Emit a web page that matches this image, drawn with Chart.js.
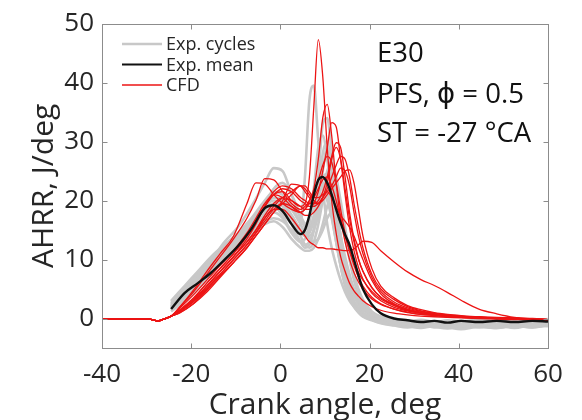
<!DOCTYPE html>
<html>
<head>
<meta charset="utf-8">
<title>AHRR vs crank angle</title>
<script src="https://cdn.jsdelivr.net/npm/chart.js@4.4.0/dist/chart.umd.min.js"></script>
<style>
  html, body { margin: 0; padding: 0; background: #ffffff; }
  #wrap { width: 582px; height: 420px; }
</style>
</head>
<body>
<div id="wrap"><canvas id="c" width="582" height="420"></canvas></div>
<script>
// Crank angle sample points (deg)
const X_EXP = [-24.5,-21.5,-18.5,-15.5,-12.5,-9.5,-6.5,-3.5,-1.5,0.5,2.5,4.5,
  5.5,6.5,7.5,8.5,9.5,10.5,11.5,12.5,13.5,14.5,15.5,16.5,17.5,18.5,
  20.5,22.5,25.5,28.5,31.5,34.5,37.5,40.5,44.5,48.5,52.5,56.5,60];
const X_CFD = [-40,-29.5,-27.5,-26.5,-24.5,-22.5,-19.5,-16.5,-13.5,-10.5,-7.5,-5.5,-3.5,-1.5,0.5,2.5,4.5,
  5.5,6.5,7.5,8.5,9.5,10.5,11.5,12.5,13.5,14.5,15.5,16.5,17.5,18.5,
  20.5,22.5,25.5,28.5,31.5,34.5,37.5,40.5,44.5,48.5,52.5,56.5,60];

const X_TICKS = [-40, -20, 0, 20, 40, 60];
const Y_TICKS = [0, 10, 20, 30, 40, 50];

// Individual measured cycles, AHRR in J/deg
const EXP_01 = [2,4,6.5,9,11.5,13.5,16,18.5,19,17.5,15,16, 24,37,39.5,30,22,16,12,9,6.5,4.5,3,2,1.2,0.6, 0,-0.5,-0.8,-1,-0.7,-1.2,-0.8,-1,-0.6,-1,-0.7,-0.9,-0.6];
const EXP_02 = [2.5,5,7.5,10,13,15.5,19,23,25.5,25,21,17, 15.5,15,16.5,19,21,20,17,13,9,6,4,2.5,1.5,0.8, 0.2,-0.3,-0.6,-0.9,-1.2,-0.8,-1.1,-0.7,-1.2,-0.8,-1,-0.6,-0.8];
const EXP_03 = [1.5,3.5,6,8,10.5,12.5,15,17.5,18,17,14.5,13, 13.5,16,22,29,31,27,20,14,9,5.5,3.5,2,1,0.3, -0.3,-0.8,-1.2,-1.5,-1.1,-1.4,-1.7,-1.2,-1.5,-1.2,-1.6,-1.1,-1.3];
const EXP_04 = [3,5.5,8,10.5,12.5,14.5,17,20,21.5,21,19,16.5, 16,17,19,22,26,27,24,19,14,10,7,4.8,3,1.8, 0.6,0.1,-0.3,-0.5,-0.2,-0.6,-0.3,-0.5,-0.2,-0.4,0,-0.3,-0.1];
const EXP_05 = [2,4.5,7,9.5,12,14,16.5,19,20,19.5,17,14, 12.5,12,13,16,20,23,22,18,13.5,9,6,4,2.5,1.5, 0.5,-0.2,-0.7,-1,-1.3,-1,-1.4,-1.1,-1.3,-1.6,-1.2,-1.4,-1];
const EXP_06 = [1.2,3,5,7.5,10,12,14.5,17,18.5,18.5,17.5,15, 14,14.5,17,24,33,34,28,20,13,8,5,3,1.8,1, 0.2,-0.4,-0.8,-0.6,-1,-0.7,-0.9,-0.6,-1,-0.7,-0.9,-0.7,-0.5];
const EXP_07 = [2.8,5,7,9,11,13,15.5,18,19.5,20,18.5,16, 14.5,13.5,13,13.5,15,17,18,17,14,10.5,7.5,5,3.5,2.5, 1,0.3,-0.2,-0.6,-0.9,-1.3,-1,-1.3,-0.9,-1.1,-1.4,-1,-1.1];
const EXP_08 = [1.8,4,6,8.5,10.5,12.5,14.5,16.5,17,16.5,15,13, 12.5,13,15,19,25,29,26,20,14,9.5,6,4,2.5,1.5, 0.6,0,-0.5,-0.8,-0.5,-0.9,-0.6,-0.9,-0.6,-0.9,-0.5,-0.8,-0.5];
const EXP_09 = [2.2,4.5,7.5,10,12,14,16.5,19.5,22,23,21,17.5, 16,15.5,17,20.5,24,24.5,21,16,11,7,4.5,2.8,1.5,0.8, 0,-0.5,-1,-1.3,-1.6,-1.3,-1.5,-1.8,-1.4,-1.6,-1.3,-1.5,-1.2];
const EXP_10 = [1.5,3.5,5.5,8,10.5,13,15.5,18,19,18,16,14.5, 14,14,15,17.5,21,25,26,24,20,15.5,11,7.5,5,3.2, 1.2,0.3,-0.3,-0.5,-0.8,-0.5,-0.8,-0.4,-0.7,-0.4,-0.7,-0.4,-0.6];
const EXP_11 = [2.5,5,7.5,9.5,11.5,13.5,16,18.5,19.5,19,16,13, 12,12.5,15,21,28,30,25,18,12,7.5,4.5,2.5,1.2,0.5, -0.2,-0.7,-1.1,-1.4,-1,-1.5,-1.2,-1.5,-1.1,-1.4,-1.2,-1.5,-1.1];
const EXP_12 = [1.8,4,6.5,9,11.5,13.5,16,19,20.5,20,17.5,15, 14.5,15,17.5,21,23,21.5,17.5,13,9,6,3.8,2.3,1.3,0.6, 0,-0.4,-0.7,-0.5,-0.8,-1.1,-0.8,-1,-1.3,-0.9,-1.1,-0.8,-0.9];
const EXP_13 = [2,4,6,8,10,12,14,16,16.5,15.5,13.5,12, 11.5,11.5,12,13.5,16,19,21,20.5,18,14,10,6.5,4,2.4, 0.7,-0.1,-0.6,-0.9,-0.6,-1,-0.7,-1,-0.7,-1,-0.8,-1,-0.7];

// Ensemble mean of the measured cycles
const EXP_MEAN = [1.6,4.3,6,7.8,10,12.3,15.2,18.7,19.2,18.2,16,14.3, 15,17.5,21,23.5,24,23,21,18.5,16.2,14.2,12.5,10,7.3,5, 2.4,0.9,0,-0.3,-0.6,-0.4,-0.7,-0.4,-0.6,-0.4,-0.6,-0.4,-0.5];

// CFD realisations
const CFD_01 = [-0.1,-0.1,-0.4,-0.2,0.4, 1.5,3.5,6,8.5,11,14,16.5,19,21,21.5,20,19, 19.5,24,36,47.3,41,29,20,14.5,10.5,8,6,4.7,3.8,3, 2,1.4,0.9,0.6,0.4,0.3,0.2,0.1,0,-0.1,-0.2,-0.2,-0.3];
const CFD_02 = [-0.1,-0.1,-0.4,-0.2,0.4, 1.8,4,6.5,9,11.5,14.5,17,19.5,21,20.5,19,18, 18.5,20,22,27,34,36.3,31,23,17,13,10,7.8,6.2,5, 3.3,2.4,1.6,1.1,0.7,0.5,0.3,0.2,0.1,0,-0.1,-0.2,-0.3];
const CFD_03 = [-0.1,-0.1,-0.4,-0.2,0.4, 1.2,3,5.5,8,10.5,13,15,17.5,19.5,20.5,20,19, 18.5,18.5,19.5,21.5,25,29,33.2,32.5,27,21,15.5,11.5,8.7,6.7, 4.3,3,1.9,1.3,0.9,0.6,0.4,0.3,0.2,0.1,0,-0.1,-0.2];
const CFD_04 = [-0.1,-0.1,-0.4,-0.2,0.4, 1.5,3.2,5.5,8,10.5,13.5,16,19,21.5,22.5,22,20.5, 20,19.5,19.5,20,21.5,24,27.5,29.8,29,24,18,13.5,10.2,8, 5.2,3.6,2.4,1.6,1.1,0.8,0.5,0.3,0.2,0.1,0,-0.1,-0.2];
const CFD_05 = [-0.1,-0.1,-0.4,-0.2,0.4, 1.2,2.8,5,7.5,10,12.5,14.5,17,19,20.5,21.5,22.5, 22,21,20,19.5,20,21,22,23,24,25,25.2,23,18.5,14, 8.5,5.5,3.5,2.2,1.5,1,0.7,0.5,0.3,0.2,0.1,0,-0.2];
const CFD_06 = [-0.1,-0.1,-0.4,-0.2,0.4, 2,4.5,7.5,10.5,13.5,17,20,23.7,23.5,21.5,19.5,18.5, 19,20,21.5,23.5,26,27.5,26.5,23,18.5,14.5,11.5,9,7,5.5, 3.6,2.5,1.6,1,0.7,0.5,0.3,0.2,0.1,0,-0.1,-0.2,-0.3];
const CFD_07 = [-0.1,-0.1,-0.4,-0.2,0.4, 1,2.5,4.5,7,9.5,12,14,16,18,20,22.8,22.5, 21.5,20.5,19.5,19.5,20.5,22,24,26,27.5,27,24,19.5,15.5,12, 7.5,5,3.2,2,1.3,0.9,0.6,0.4,0.2,0.1,0,-0.1,-0.2];
const CFD_08 = [-0.1,-0.1,-0.4,-0.2,0.4, 1.2,3,5.5,8,10.5,13,15,17,18.5,18.5,17,15, 14,13,12.5,12,12,11.8,11.8,11.7,11.6,11.5,11.5,11.8,12.5,13.1, 12.9,11.5,9.6,7.9,6.6,5.6,4.4,3.1,1.6,0.8,0.2,-0.1,-0.4];
const CFD_09 = [-0.1,-0.1,-0.4,-0.2,0.4, 2,4.8,8,11,14,19.5,23,22.8,21,19.5,18.5,18, 18.5,19.5,20.5,22,23.5,24,22.5,20,17,14,11.5,9.5,7.8,6.5, 4.6,3.3,2.2,1.4,0.9,0.6,0.4,0.3,0.2,0.1,0,-0.1,-0.2];
const CFD_10 = [-0.1,-0.1,-0.4,-0.2,0.4, 1.4,3.3,6,8.5,11,14,16.5,19,21,22,21.5,20, 19.5,19,19,19.5,20.5,21.5,22.5,24,25.5,25,22.5,18,14,11, 7,4.6,2.8,1.8,1.2,0.8,0.5,0.4,0.2,0.1,0,-0.1,-0.2];
const CFD_11 = [-0.1,-0.1,-0.4,-0.2,0.4, 1,2.5,4.8,7.2,9.5,12,14,16,18,19.5,21,22.5, 22.5,21.5,20.5,20.5,21,21.5,20.5,19,17.5,16.5,15.5,14,12,10, 6.5,4.2,2.5,1.5,1,0.7,0.5,0.3,0.2,0.1,0,-0.1,-0.3];
const CFD_12 = [-0.1,-0.1,-0.4,-0.2,0.4, 1.3,3,5.2,7.5,10,12.5,14.5,16.5,18.5,19.5,19,18, 17.5,17.5,18,19,20.5,23,27,29,27,22,17,13,10,8, 5.3,3.6,2.2,1.4,0.9,0.6,0.4,0.3,0.2,0.1,0,-0.1,-0.2];

const EXP_CYCLES = [EXP_01, EXP_02, EXP_03, EXP_04, EXP_05, EXP_06, EXP_07,
  EXP_08, EXP_09, EXP_10, EXP_11, EXP_12, EXP_13];
const CFD_RUNS = [CFD_01, CFD_02, CFD_03, CFD_04, CFD_05, CFD_06,
  CFD_07, CFD_08, CFD_09, CFD_10, CFD_11, CFD_12];

const FONT = '"Open Sans", "DejaVu Sans", sans-serif';
const INK = '#262626';
const GRAY = 'rgb(200,200,200)';
const BLACK = '#111111';
const RED = 'rgb(236,20,20)';

function pts(xs, ys) { return xs.map((x, i) => ({ x: x, y: ys[i] })); }

// First dataset is painted last, so the mean sits on top, then CFD, then cycles
const datasets = [];
datasets.push({ data: pts(X_EXP, EXP_MEAN), borderColor: BLACK, borderWidth: 2.4 });
CFD_RUNS.forEach(r => datasets.push({ data: pts(X_CFD, r), borderColor: RED, borderWidth: 1.3 }));
EXP_CYCLES.forEach(r => datasets.push({ data: pts(X_EXP, r), borderColor: GRAY, borderWidth: 2.6 }));

// Axis box with inward ticks, legend and run description
const decor = {
  id: 'decor',
  afterDatasetsDraw(chart) {
    const { ctx, chartArea: a, scales } = chart;
    ctx.save();
    ctx.strokeStyle = '#8c8c8c';
    ctx.lineWidth = 1;
    const L = Math.round(a.left) + 0.5, R = Math.round(a.right) + 0.5;
    const T = Math.round(a.top) + 0.5, B = Math.round(a.bottom) + 0.5;
    ctx.strokeRect(L, T, R - L, B - T);
    const tl = 5;
    ctx.beginPath();
    X_TICKS.forEach(v => {
      const px = Math.round(scales.x.getPixelForValue(v)) + 0.5;
      ctx.moveTo(px, B); ctx.lineTo(px, B - tl);
      ctx.moveTo(px, T); ctx.lineTo(px, T + tl);
    });
    Y_TICKS.forEach(v => {
      const py = Math.round(scales.y.getPixelForValue(v)) + 0.5;
      ctx.moveTo(L, py); ctx.lineTo(L + tl, py);
      ctx.moveTo(R, py); ctx.lineTo(R - tl, py);
    });
    ctx.stroke();
    ctx.restore();
  },
  afterDraw(chart) {
    const { ctx } = chart;
    ctx.save();
    // legend
    const items = [['Exp. cycles', GRAY, 2.4], ['Exp. mean', BLACK, 2], ['CFD', RED, 1.5]];
    ctx.font = '18px ' + FONT;
    ctx.textBaseline = 'middle';
    ctx.fillStyle = INK;
    items.forEach((it, i) => {
      const y = 44 + i * 20.5;
      ctx.strokeStyle = it[1];
      ctx.lineWidth = it[2];
      ctx.beginPath(); ctx.moveTo(122, y); ctx.lineTo(162, y); ctx.stroke();
      ctx.fillText(it[0], 166, y + 1);
    });
    // run description
    ctx.font = '27.5px ' + FONT;
    ctx.textBaseline = 'alphabetic';
    ctx.fillStyle = '#111111';
    ctx.fillText('E30', 377, 62);
    ctx.fillText('PFS, \u03D5 = 0.5', 377, 103);
    ctx.fillText('ST = -27 \u00B0CA', 377, 142);
    ctx.restore();
  }
};

new Chart(document.getElementById('c'), {
  type: 'line',
  data: { datasets: datasets },
  options: {
    responsive: false,
    animation: false,
    devicePixelRatio: 1,
    layout: { padding: { left: 0, right: 34, top: 19, bottom: 0 } },
    plugins: { legend: { display: false }, tooltip: { enabled: false } },
    elements: {
      point: { radius: 0 },
      line: { cubicInterpolationMode: 'monotone', fill: false }
    },
    scales: {
      x: {
        type: 'linear', min: -40, max: 60,
        afterBuildTicks: s => { s.ticks = X_TICKS.map(v => ({ value: v })); },
        afterFit: s => { s.height = 72; },
        grid: { display: false, drawTicks: false },
        border: { display: false },
        ticks: { color: INK, font: { family: FONT, size: 26 }, padding: 11, maxRotation: 0, autoSkip: false },
        title: { display: true, text: 'Crank angle, deg', color: INK,
                 font: { family: FONT, size: 30 }, padding: { top: -3, bottom: -3 } }
      },
      y: {
        type: 'linear', min: -5, max: 50,
        afterBuildTicks: s => { s.ticks = Y_TICKS.map(v => ({ value: v })); },
        afterFit: s => { s.width = 102; },
        grid: { display: false, drawTicks: false },
        border: { display: false },
        ticks: { color: INK, font: { family: FONT, size: 26 }, padding: 8 },
        title: { display: true, text: 'AHRR, J/deg', color: INK,
                 font: { family: FONT, size: 30 }, padding: { top: 26, bottom: 0 } }
      }
    }
  },
  plugins: [decor]
});
</script>
</body>
</html>
